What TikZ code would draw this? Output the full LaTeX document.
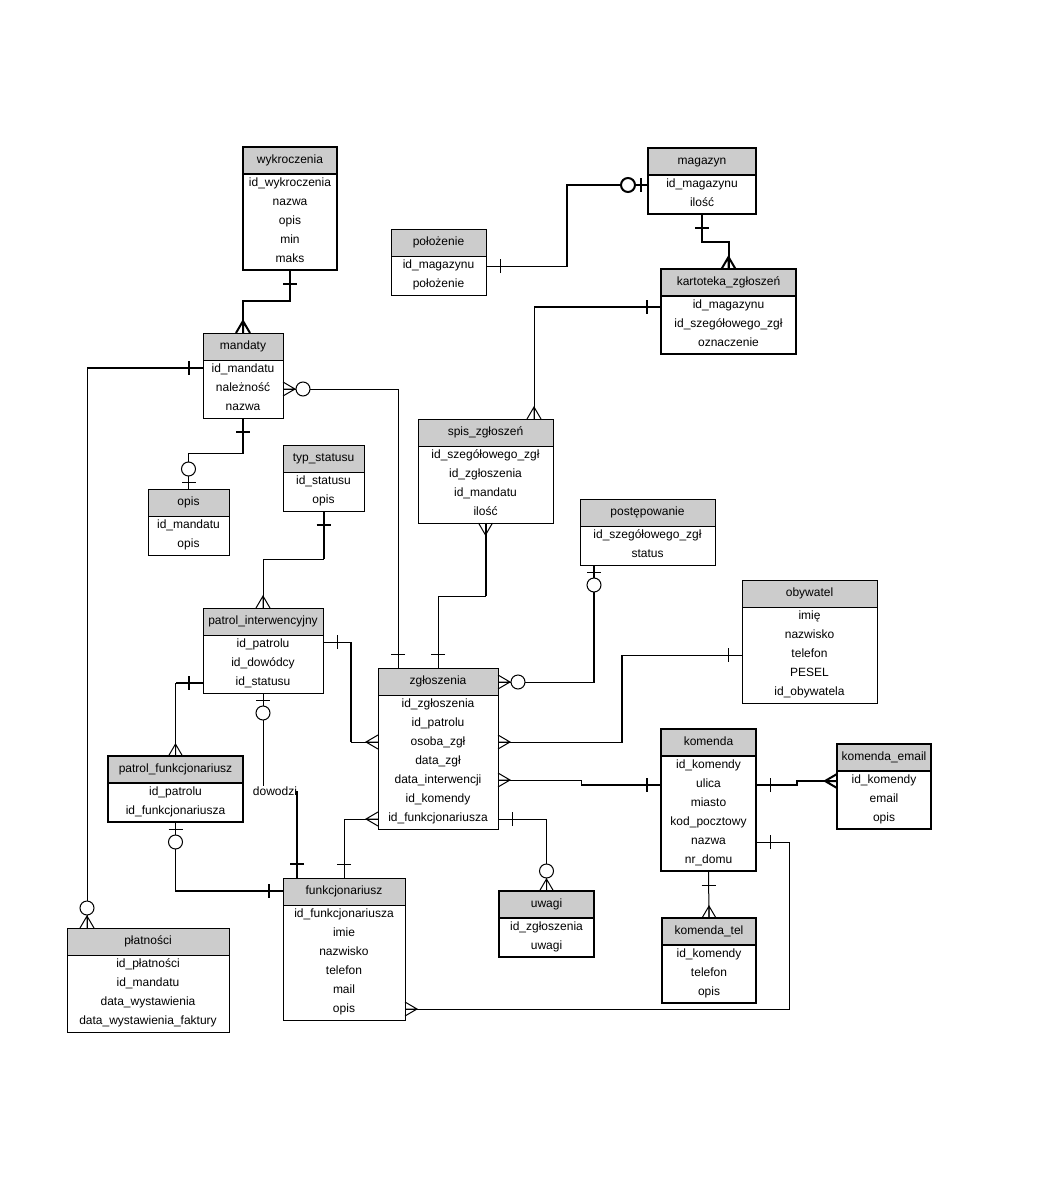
\documentclass[tikz,border=0pt]{standalone}
\usepackage{fontspec}
\setmainfont{Liberation Sans}
\usetikzlibrary{positioning}
\definecolor{hdrgray}{RGB}{204,204,204}

\tikzset{
  one/.pic={\draw (-14,-7) -- (-14,7);},
  many/.pic={\draw (0,-7) -- (-12,0) -- (0,7) (-12,0) -- (0,0);},
  zeroone/.pic={\draw (-7,-7) -- (-7,7); \draw[fill=white] (-20,0) circle[radius=7pt];},
  zeromany/.pic={\draw (0,-7) -- (-12,0) -- (0,7) (-12,0) -- (0,0); \draw[fill=white] (-20,0) circle[radius=7pt];},
}

\begin{document}
\begin{tikzpicture}[x=1pt, y=-1pt,
    hdr/.style={anchor=north west, fill=hdrgray, minimum height=27pt, inner sep=0pt, outer sep=0pt,
      text height=9pt, text depth=3pt, font=\fontsize{12}{14}\selectfont},
    rows/.style={fill=white, inner sep=0pt, outer sep=0pt, align=center, text depth=3pt,
      font=\fontsize{12}{19}\selectfont},
    tbl/.style={draw, line width=1pt},
    tblb/.style={draw, line width=2pt},
    rel/.style={line width=1pt},
    relb/.style={line width=2pt},
    lbl/.style={inner sep=0pt, font=\fontsize{12}{14}\selectfont}]

    \path[use as bounding box, fill=white] (0,0) rectangle (1058,1188);

    % Tables, left part
    \node[hdr, tblb, minimum width=94pt] (wykroczenia) at (243,147) {wykroczenia};
    \node[rows, tblb, minimum width=94pt, minimum height=96pt, below=0pt of wykroczenia] (wykroczenia-rows)
        {id\_wykroczenia\\nazwa\\opis\\min\\maks};

    \node[hdr, tbl, minimum width=80pt] (mandaty) at (203,333) {mandaty};
    \node[rows, tbl, minimum width=80pt, minimum height=58pt, below=0pt of mandaty] (mandaty-rows)
        {id\_mandatu\\należność\\nazwa};

    \node[hdr, tbl, minimum width=81pt] (opis) at (148,489) {opis};
    \node[rows, tbl, minimum width=81pt, minimum height=39pt, below=0pt of opis] (opis-rows)
        {id\_mandatu\\opis};

    \node[hdr, tbl, minimum width=81pt] (typstatusu) at (283,445) {typ\_statusu};
    \node[rows, tbl, minimum width=81pt, minimum height=39pt, below=0pt of typstatusu] (typstatusu-rows)
        {id\_statusu\\opis};

    \node[hdr, tbl, minimum width=120pt] (patrol) at (203,608) {patrol\_interwencyjny};
    \node[rows, tbl, minimum width=120pt, minimum height=58pt, below=0pt of patrol] (patrol-rows)
        {id\_patrolu\\id\_dowódcy\\id\_statusu};

    \node[hdr, tblb, minimum width=135pt] (patrolfunk) at (108,756) {patrol\_funkcjonariusz};
    \node[rows, tblb, minimum width=135pt, minimum height=39pt, below=0pt of patrolfunk] (patrolfunk-rows)
        {id\_patrolu\\id\_funkcjonariusza};

    \node[hdr, tbl, minimum width=162pt] (platnosci) at (67,928) {płatności};
    \node[rows, tbl, minimum width=162pt, minimum height=77pt, below=0pt of platnosci] (platnosci-rows)
        {id\_płatności\\id\_mandatu\\data\_wystawienia\\data\_wystawienia\_faktury};

    \node[hdr, tbl, minimum width=122pt] (funkcjonariusz) at (283,878) {funkcjonariusz};
    \node[rows, tbl, minimum width=122pt, minimum height=115pt, below=0pt of funkcjonariusz] (funkcjonariusz-rows)
        {id\_funkcjonariusza\\imie\\nazwisko\\telefon\\mail\\opis};

    \node[lbl] (dowodzi) at (275,791) {dowodzi};

    % Tables, middle part
    \node[hdr, tbl, minimum width=120pt] (zgloszenia) at (378,668) {zgłoszenia};
    \node[rows, tbl, minimum width=120pt, minimum height=134pt, below=0pt of zgloszenia] (zgloszenia-rows)
        {id\_zgłoszenia\\id\_patrolu\\osoba\_zgł\\data\_zgł\\data\_interwencji\\id\_komendy\\id\_funkcjonariusza};

    \node[hdr, tbl, minimum width=135pt] (spis) at (418,419) {spis\_zgłoszeń};
    \node[rows, tbl, minimum width=135pt, minimum height=77pt, below=0pt of spis] (spis-rows)
        {id\_szegółowego\_zgł\\id\_zgłoszenia\\id\_mandatu\\ilość};

    \node[hdr, tbl, minimum width=95pt] (polozenie) at (391,229) {położenie};
    \node[rows, tbl, minimum width=95pt, minimum height=39pt, below=0pt of polozenie] (polozenie-rows)
        {id\_magazynu\\położenie};

    \node[hdr, tblb, minimum width=95pt] (uwagi) at (499,891) {uwagi};
    \node[rows, tblb, minimum width=95pt, minimum height=39pt, below=0pt of uwagi] (uwagi-rows)
        {id\_zgłoszenia\\uwagi};

    % Tables, right part
    \node[hdr, tblb, minimum width=108pt] (magazyn) at (648,148) {magazyn};
    \node[rows, tblb, minimum width=108pt, minimum height=39pt, below=0pt of magazyn] (magazyn-rows)
        {id\_magazynu\\ilość};

    \node[hdr, tblb, minimum width=135pt] (kartoteka) at (661,269) {kartoteka\_zgłoszeń};
    \node[rows, tblb, minimum width=135pt, minimum height=58pt, below=0pt of kartoteka] (kartoteka-rows)
        {id\_magazynu\\id\_szegółowego\_zgł\\oznaczenie};

    \node[hdr, tbl, minimum width=135pt] (postepowanie) at (580,499) {postępowanie};
    \node[rows, tbl, minimum width=135pt, minimum height=39pt, below=0pt of postepowanie] (postepowanie-rows)
        {id\_szegółowego\_zgł\\status};

    \node[hdr, tbl, minimum width=135pt] (obywatel) at (742,580) {obywatel};
    \node[rows, tbl, minimum width=135pt, minimum height=96pt, below=0pt of obywatel] (obywatel-rows)
        {imię\\nazwisko\\telefon\\PESEL\\id\_obywatela};

    \node[hdr, tblb, minimum width=95pt] (komenda) at (661,729) {komenda};
    \node[rows, tblb, minimum width=95pt, minimum height=115pt, below=0pt of komenda] (komenda-rows)
        {id\_komendy\\ulica\\miasto\\kod\_pocztowy\\nazwa\\nr\_domu};

    \node[hdr, tblb, minimum width=94pt] (komendaemail) at (837,744) {komenda\_email};
    \node[rows, tblb, minimum width=94pt, minimum height=58pt, below=0pt of komendaemail] (komendaemail-rows)
        {id\_komendy\\email\\opis};

    \node[hdr, tblb, minimum width=94pt] (komendatel) at (662,918) {komenda\_tel};
    \node[rows, tblb, minimum width=94pt, minimum height=58pt, below=0pt of komendatel] (komendatel-rows)
        {id\_komendy\\telefon\\opis};

    % Relations
    \draw[relb] (wykroczenia-rows.south) pic[rotate=90, relb]{one} -- (wykroczenia-rows.south |- 0,301)
        -| (mandaty.north) pic[rotate=-90, relb]{many};

    \draw[relb] (mandaty-rows.west |- 0,368) -- (87,368);
    \draw[rel] (mandaty-rows.west |- 0,368) pic[relb]{one} -- (87,368)
        -- (platnosci.north -| 87,0) pic[rotate=-90, rel]{zeromany};

    \draw[rel] (mandaty-rows.east |- 0,389) pic[rotate=180, rel]{zeromany} -- (398,389)
        -- (zgloszenia.north -| 398,0) pic[rotate=-90, rel]{one};

    \draw[relb] (mandaty-rows.south) -- (mandaty-rows.south |- 0,453);
    \draw[rel] (mandaty-rows.south) pic[rotate=90, relb]{one} -- (mandaty-rows.south |- 0,453)
        -| (opis.north) pic[rotate=-90, rel]{zeroone};

    \draw[relb] (typstatusu-rows.south) -- (typstatusu-rows.south |- 0,559);
    \draw[rel] (typstatusu-rows.south) pic[rotate=90, relb]{one} -- (typstatusu-rows.south |- 0,559)
        -| (patrol.north) pic[rotate=-90, rel]{many};

    \draw[relb] (351,642) -- (351,742);
    \draw[rel] (patrol-rows.east |- 0,642) pic[rotate=180, rel]{one} -- (351,642) -- (351,742)
        -- (zgloszenia-rows.west |- 0,742) pic[rel]{many};

    \draw[relb] (patrol-rows.west |- 0,683) -- (patrolfunk.north |- 0,683);
    \draw[rel] (patrol-rows.west |- 0,683) pic[relb]{one} -| (patrolfunk.north) pic[rotate=-90, rel]{many};

    % dowodzi
    \draw[rel] (patrol-rows.south) pic[rotate=90, rel]{zeroone} -- (dowodzi.north -| patrol-rows.south);
    \draw[relb] (dowodzi.east) -- (dowodzi.east |- funkcjonariusz.north) pic[rotate=-90, relb]{one};

    \draw[relb] (patrolfunk-rows.south |- 0,891) -- (funkcjonariusz.west |- 0,891);
    \draw[rel] (patrolfunk-rows.south) pic[rotate=90, rel]{zeroone}
        |- (funkcjonariusz.west |- 0,891) pic[relb]{one};

    \draw[rel] (funkcjonariusz.north) pic[rotate=-90, rel]{one}
        |- (zgloszenia-rows.west |- 0,819) pic[rel]{many};

    \draw[rel] (funkcjonariusz-rows.east |- 0,1009) pic[rotate=180, rel]{many} -- (789,1009)
        |- (komenda-rows.east |- 0,842) pic[rotate=180, rel]{one};

    \draw[relb] (spis-rows.south) -- (spis-rows.south |- 0,596);
    \draw[rel] (spis-rows.south) pic[rotate=90, rel]{many} -- (spis-rows.south |- 0,596)
        -| (zgloszenia.north) pic[rotate=-90, rel]{one};

    \draw[relb] (kartoteka-rows.west |- 0,307) -- (534,307);
    \draw[rel] (kartoteka-rows.west |- 0,307) pic[relb]{one} -- (534,307)
        -- (spis.north -| 534,0) pic[rotate=-90, rel]{many};

    \draw[relb] (magazyn-rows.south) pic[rotate=90, relb]{one} -- (magazyn-rows.south |- 0,242)
        -| (kartoteka.north) pic[rotate=-90, relb]{many};

    \draw[relb] (567,266) |- (magazyn-rows.west |- 0,185);
    \draw[rel] (polozenie-rows.east |- 0,266) pic[rotate=180, rel]{one} -- (567,266)
        |- (magazyn-rows.west |- 0,185) pic[relb]{zeroone};

    \draw[relb] (postepowanie-rows.south -| 594,0) -- (594,682);
    \draw[rel] (postepowanie-rows.south -| 594,0) pic[rotate=90, rel]{zeroone}
        |- (zgloszenia.east |- 0,682) pic[rotate=180, rel]{zeromany};

    \draw[relb] (622,655) -- (622,742);
    \draw[rel] (obywatel-rows.west |- 0,655) pic[rel]{one} -| (622,742)
        -- (zgloszenia-rows.east |- 0,742) pic[rotate=180, rel]{many};

    \draw[relb] (581,785) -- (komenda-rows.west |- 0,785);
    \draw[rel] (zgloszenia-rows.east |- 0,780) pic[rotate=180, rel]{many} -- (581,780) -- (581,785)
        -- (komenda-rows.west |- 0,785) pic[relb]{one};

    \draw[rel] (zgloszenia-rows.east |- 0,819) pic[rotate=180, rel]{one}
        -| (uwagi.north) pic[rotate=-90, rel]{zeromany};

    \draw[relb] (komenda-rows.east |- 0,785) pic[rotate=180, rel]{one} -- (797,785) -- (797,781)
        -- (komendaemail-rows.west |- 0,781) pic[relb]{many};

    \draw[rel] (komenda-rows.south) pic[rotate=90, rel]{one} -- (komendatel.north) pic[rotate=-90, rel]{many};
\end{tikzpicture}
\end{document}
